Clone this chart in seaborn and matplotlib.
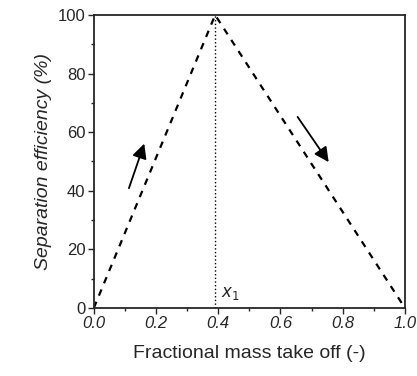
import numpy as np
import pandas as pd
import matplotlib
matplotlib.use('Agg')
import matplotlib.pyplot as plt
import seaborn as sns

# data
take_off = [0.0, 0.39, 1.0]
efficiency = [0, 100, 0]
x1_pos = 0.39
xticks = [0.0, 0.2, 0.4, 0.6, 0.8, 1.0]
yticks = [0, 20, 40, 60, 80, 100]

sns.set_style('ticks')
plt.rcParams['font.family'] = ['Liberation Sans', 'DejaVu Sans']

fig = plt.figure(figsize=(4.17, 3.76), dpi=100)
ax = fig.add_axes([0.225, 0.181, 0.746, 0.779])

df = pd.DataFrame({'x': take_off, 'y': efficiency})
sns.lineplot(data=df, x='x', y='y', ax=ax, color='black', linestyle=(0, (3, 3)), lw=1.6)
ax.axvline(x1_pos, color='black', linestyle=':', lw=1)

# direction arrows
ax.annotate('', xy=(0.165, 57), xytext=(0.11, 40),
            arrowprops=dict(arrowstyle='-|>', color='black', lw=1.3, mutation_scale=22))
ax.annotate('', xy=(0.76, 49), xytext=(0.65, 66),
            arrowprops=dict(arrowstyle='-|>', color='black', lw=1.3, mutation_scale=22))

ax.text(x1_pos + 0.02, 2, r'$x_1$', fontsize=12, ha='left', va='bottom')

ax.set_xlim(0, 1.0)
ax.set_ylim(0, 100)
ax.set_xticks(xticks)
ax.set_xticklabels(['%.1f' % t for t in xticks], fontstyle='italic', fontsize=12)
ax.set_yticks(yticks)
ax.set_yticklabels([str(t) for t in yticks], fontsize=12)
ax.set_xticks(np.arange(0.1, 1.0, 0.2), minor=True)
ax.set_yticks(np.arange(10, 100, 20), minor=True)
ax.tick_params(which='major', direction='out', length=4, width=1, pad=2)
ax.tick_params(which='minor', direction='out', length=2, width=1)
for s in ax.spines.values():
    s.set_linewidth(1.3)

ax.set_xlabel('Fractional mass take off (-)', fontsize=14, labelpad=10)
ax.set_ylabel('Separation efficiency (%)', fontsize=14, fontstyle='italic', labelpad=4)

fig.savefig('out.png', dpi=100)
